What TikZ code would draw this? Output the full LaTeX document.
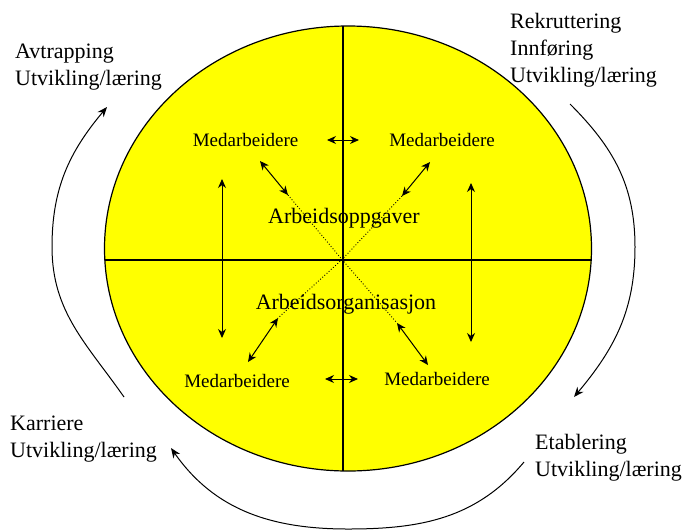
\documentclass[tikz,border=0pt]{standalone}
\usepackage{fontspec}
\setmainfont{Liberation Serif}
\usetikzlibrary{arrows.meta,shapes.geometric}
\definecolor{ovalyellow}{RGB}{255,255,0}
\tikzset{
  duo/.style={{Stealth[length=9pt,width=8pt]}-{Stealth[length=9pt,width=8pt]},line width=1pt},
  roundarrow/.style={-{Stealth[length=10pt,width=8pt]},line width=1pt},
  medtext/.style={font=\fontsize{19}{22}\selectfont,anchor=base,inner sep=0pt},
  areatext/.style={font=\fontsize{22}{26}\selectfont,anchor=base,inner sep=0pt},
  phasetext/.style={font=\fontsize{22}{27}\selectfont,align=left,anchor=north west,inner sep=0pt}
}

\begin{document}
\begin{tikzpicture}[x=1pt,y=1pt]
  \useasboundingbox (0,0) rectangle (685,-531);
  % the oval and its cross
  \node[ellipse,draw,line width=1.2pt,fill=ovalyellow,minimum width=487pt,minimum height=445pt,inner sep=0pt] (oval) at (348,-248.5) {};
  \coordinate (top) at (343,-26);
  \coordinate (bottom) at (343,-471);
  \coordinate (left) at (105,-260);
  \coordinate (right) at (591.5,-260);
  \coordinate (mid) at (342,-259.5);
  \draw[line width=1.1pt] (top) -- (bottom);
  \draw[line width=1.1pt] (left) -- (right);

  % texts inside
  \node[medtext] (medTL) at (245.5,-146) {Medarbeidere};
  \node[medtext] (medTR) at (442,-146) {Medarbeidere};
  \node[medtext] (medBL) at (237,-387) {Medarbeidere};
  \node[medtext] (medBR) at (437,-385) {Medarbeidere};
  \node[areatext] (oppg) at (344,-223) {Arbeidsoppgaver};
  \node[areatext] (organ) at (346,-309) {Arbeidsorganisasjon};

  % dotted diagonals
  \coordinate (dTL) at (288,-195);
  \coordinate (dTR) at (402,-196);
  \coordinate (dBL) at (278,-318);
  \coordinate (dBR) at (397,-323);
  \draw[dotted,line width=0.9pt] (dTL) -- (mid) -- (dBR);
  \draw[dotted,line width=0.9pt] (dTR) -- (mid) -- (dBL);

  % arrows between the groups
  \coordinate (hT1) at (327,-140);
  \coordinate (hT2) at (359,-140);
  \coordinate (hB1) at (325,-379);
  \coordinate (hB2) at (358,-379);
  \coordinate (vL1) at (222,-179);
  \coordinate (vL2) at (222,-338);
  \coordinate (vR1) at (471,-183);
  \coordinate (vR2) at (471,-342);
  \coordinate (aTL) at (260,-161);
  \coordinate (aTR) at (430,-162);
  \coordinate (aBL) at (248,-362);
  \coordinate (aBR) at (428,-365);
  \draw[duo] (hT1) -- (hT2);
  \draw[duo] (hB1) -- (hB2);
  \draw[duo] (vL1) -- (vL2);
  \draw[duo] (vR1) -- (vR2);
  \draw[duo] (aTL) -- (dTL);
  \draw[duo] (aTR) -- (dTR);
  \draw[duo] (aBL) -- (dBL);
  \draw[duo] (aBR) -- (dBR);

  % phases round the oval
  \node[phasetext] (rekr) at (510,-13) {Rekruttering\\Innføring\\Utvikling/læring};
  \node[phasetext] (etab) at (535,-434) {Etablering\\Utvikling/læring};
  \node[phasetext] (karr) at (10,-416) {Karriere\\Utvikling/læring};
  \node[phasetext] (avtr) at (15,-44) {Avtrapping\\Utvikling/læring};

  % cycle arcs
  \coordinate (rs) at (570,-104);
  \coordinate (rm) at (635,-247);
  \coordinate (re) at (574,-397);
  \coordinate (bs) at (524,-462);
  \coordinate (bm) at (348,-529);
  \coordinate (be) at (171,-448);
  \coordinate (ls) at (124,-397);
  \coordinate (lm) at (52,-247);
  \coordinate (le) at (107,-107);
  \draw[roundarrow] (rs) to[out=-45,in=90] (rm) to[out=-90,in=50] (re);
  \draw[roundarrow] (bs) to[out=-130,in=0] (bm) to[out=180,in=-55] (be);
  \draw[roundarrow] (ls) to[out=125,in=-90] (lm) to[out=90,in=-130] (le);
\end{tikzpicture}
\end{document}
